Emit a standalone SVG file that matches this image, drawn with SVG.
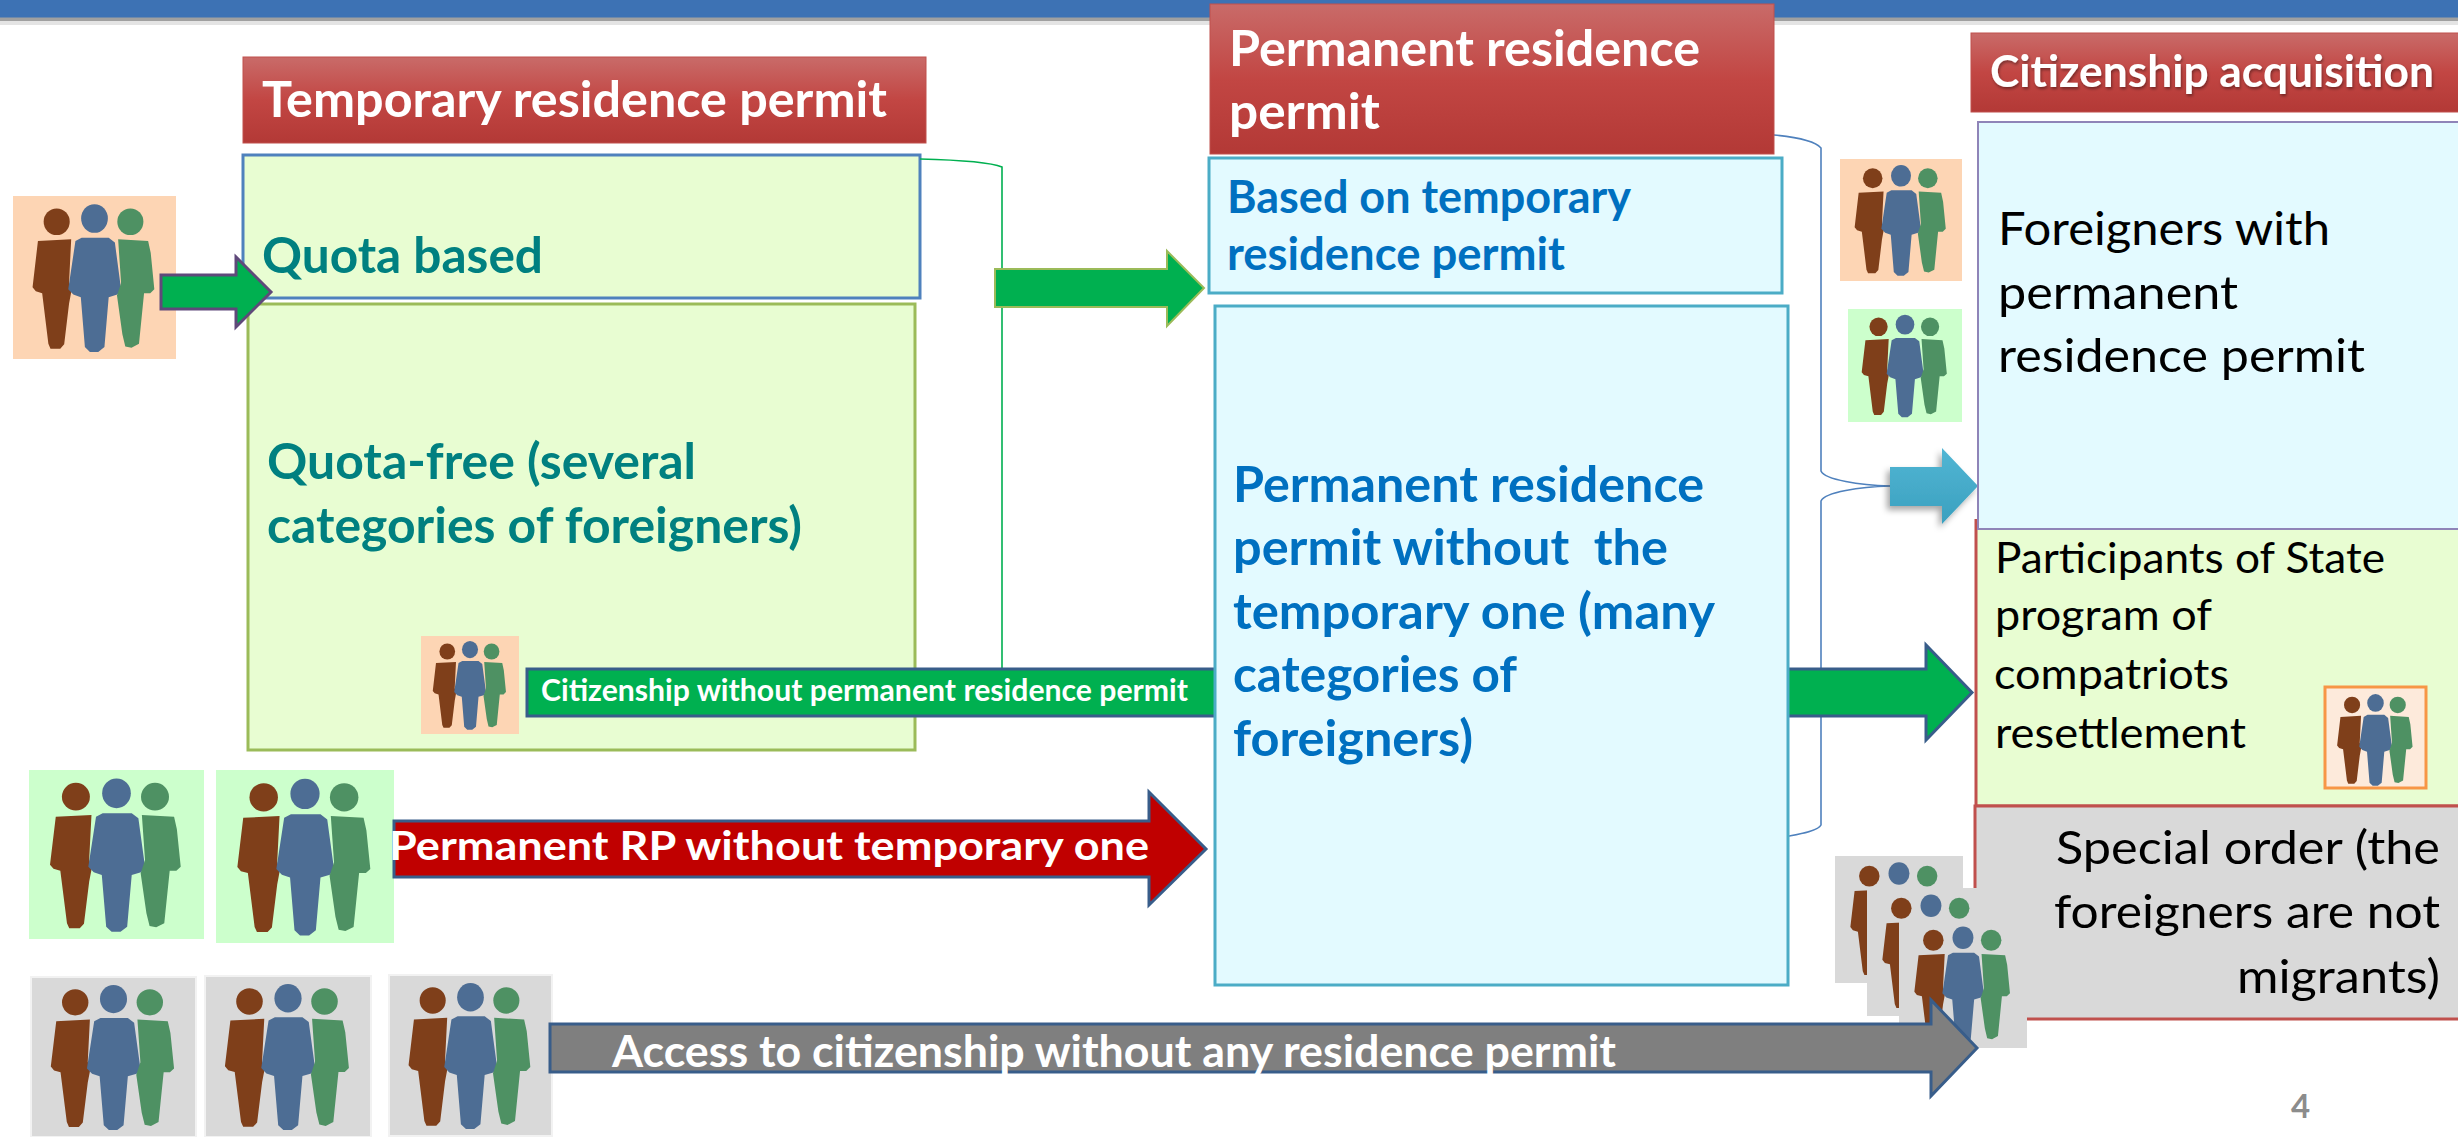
<svg xmlns="http://www.w3.org/2000/svg" width="2458" height="1137" viewBox="0 0 2458 1137">
<style>
text{font-family:"Lato","Liberation Sans",sans-serif}
.b{font-weight:700}
.w{fill:#fff;font-weight:700}
.t{fill:#008080;font-weight:700;font-size:50px}
.c{fill:#0070c0;font-weight:700}
.k{fill:#000;font-weight:400}
.hd{fill:url(#red);stroke:#c0504d;stroke-width:1}
.lg{fill:#e8fdd2}
.lb{fill:#e3faff}
.thin{fill:none;stroke-width:1.6}
.gr{fill:#d9d9d9}
.ar{stroke:#385d8a;stroke-width:3}
</style>
<defs>
<linearGradient id="red" x1="0" y1="0" x2="0" y2="1"><stop offset="0" stop-color="#c96b69"/><stop offset=".5" stop-color="#c24643"/><stop offset="1" stop-color="#b33936"/></linearGradient>
<linearGradient id="teal" x1="0" y1="0" x2="0" y2="1"><stop offset="0" stop-color="#52b6d4"/><stop offset="1" stop-color="#3aa0bf"/></linearGradient>
<filter id="sh" x="-20%" y="-20%" width="140%" height="140%"><feDropShadow dx="-3" dy="4" stdDeviation="3" flood-color="#000" flood-opacity=".35"/></filter>
<filter id="ts" x="-5%" y="-20%" width="110%" height="140%"><feDropShadow dx="1" dy="2" stdDeviation="1.5" flood-color="#000" flood-opacity=".4"/></filter>
<symbol id="people" viewBox="0 0 100 100" preserveAspectRatio="none">
<ellipse cx="26.8" cy="15.8" rx="8" ry="8.200" fill="#7f3f1a"/>
<path fill="#7f3f1a" d="M15.3 27.6 35.7 26.6 34.4 53 35.7 59 34.4 66 31.4 91 29 93.7H23L21.7 90.7 17.9 59.6 14 58.5 12 56Z"/>
<ellipse cx="50" cy="13.8" rx="8.2" ry="8.8" fill="#4d6d94"/>
<path fill="#4d6d94" d="M38.3 27.6 42.1 25.6H58.7L62.5 28.6 66.3 57.2 64 60.5 58.7 62.1 56.1 92.7 52.3 95.7H47.2L44.1 92.7 41.6 62.1 37 60.5 33.9 57.2Z"/>
<ellipse cx="72" cy="15.8" rx="8" ry="8.200" fill="#4e9163"/>
<path fill="#4e9163" d="M64.5 26.6 82.9 27.6 84.5 35 86.7 57.2 84.2 59.6 80.4 59.6 77.3 90.7 72.7 93.1 68.9 92.3 67.1 84.8 63.8 61.1 66.3 53.3Z"/>
</symbol>
</defs>
<rect width="2458" height="1137" fill="#fff"/>
<g id="top-bar">
<rect y="20" width="2458" height="5" fill="#e4e4e4"/>
<rect y="17" width="2458" height="4" fill="#a0a0a0"/>
<rect width="2458" height="17.500" fill="#3d72b4"/>
</g>

<g id="temporary-header">
<rect class="hd" x="243" y="57" width="683" height="86"/>
<text class="w" x="262" y="117" font-size="50" textLength="625" lengthAdjust="spacingAndGlyphs">Temporary residence permit</text>
</g>
<g id="quota-based">
<rect class="lg" x="243" y="155" width="677" height="143" stroke="#4f81bd" stroke-width="3"/>
<text class="t" x="262" y="273" textLength="281" lengthAdjust="spacingAndGlyphs">Quota based</text>
</g>
<g id="quota-free">
<rect class="lg" x="248" y="304" width="667" height="446" stroke="#9bbb59" stroke-width="3"/>
<text class="t" x="267" y="479" textLength="429" lengthAdjust="spacingAndGlyphs">Quota-free (several</text>
<text class="t" x="267" y="543" textLength="535" lengthAdjust="spacingAndGlyphs">categories of foreigners)</text>
</g>
<g id="people-quota"><rect x="13" y="196" width="163" height="163" fill="#fdd5b4"/><use href="#people" x="13" y="196" width="163" height="163"/></g>
<g id="people-citizenship-direct"><rect x="421" y="636" width="98" height="98" fill="#fdd5b4"/><use href="#people" x="421" y="636" width="98" height="98"/></g>
<g id="people-green-1"><rect x="29" y="770" width="175" height="169" fill="#ccffcc"/><use href="#people" x="29" y="770" width="175" height="169"/></g>
<g id="people-green-2"><rect x="216" y="770" width="178" height="173" fill="#ccffcc"/><use href="#people" x="216" y="770" width="178" height="173"/></g>
<g id="people-gray-1"><rect class="gr" x="31" y="977" width="165" height="160" stroke="#f2f2f2" stroke-width="2"/><use href="#people" x="31" y="977" width="165" height="160"/></g>
<g id="people-gray-2"><rect class="gr" x="205" y="976" width="166" height="161" stroke="#f2f2f2" stroke-width="2"/><use href="#people" x="205" y="976" width="166" height="161"/></g>
<g id="people-gray-3"><rect class="gr" x="389" y="975" width="163" height="161" stroke="#f2f2f2" stroke-width="2"/><use href="#people" x="389" y="975" width="163" height="161"/></g>

<g id="citizenship-header">
<rect class="hd" x="1971" y="33" width="490" height="79"/>
<text class="w" x="1990" y="87" font-size="43" textLength="444" lengthAdjust="spacingAndGlyphs" filter="url(#ts)">Citizenship acquisition</text>
</g>
<g id="people-orange-right"><rect x="1840" y="159" width="122" height="122" fill="#fdd5b4"/><use href="#people" x="1840" y="159" width="122" height="122"/></g>
<g id="people-green-right"><rect x="1848" y="309" width="114" height="113" fill="#ccffcc"/><use href="#people" x="1848" y="309" width="114" height="113"/></g>
<g id="participants">
<rect class="lg" x="1976" y="529" width="490" height="277"/>
<path d="M1976 519V806H2460" fill="none" stroke="#c0504d" stroke-width="3"/>
<text class="k" x="1995" y="573" font-size="42" textLength="390" lengthAdjust="spacingAndGlyphs">Participants of State</text>
<text class="k" x="1995" y="630" font-size="42" textLength="217" lengthAdjust="spacingAndGlyphs">program of</text>
<text class="k" x="1994" y="689" font-size="42" textLength="235" lengthAdjust="spacingAndGlyphs">compatriots</text>
<text class="k" x="1995" y="748" font-size="42" textLength="251" lengthAdjust="spacingAndGlyphs">resettlement</text>
</g>
<g id="people-participants"><rect x="2325" y="687" width="101" height="101" fill="#fdeadb" stroke="#f79646" stroke-width="3"/><use href="#people" x="2325" y="689" width="101" height="101"/></g>
<g id="special-order">
<rect class="gr" x="1975" y="806" width="490" height="213" stroke="#c0504d" stroke-width="3"/>
<text class="k" x="2440" y="864" font-size="47" text-anchor="end" textLength="384" lengthAdjust="spacingAndGlyphs">Special order (the</text>
<text class="k" x="2440" y="928" font-size="47" text-anchor="end" textLength="386" lengthAdjust="spacingAndGlyphs">foreigners are not</text>
<text class="k" x="2440" y="993" font-size="47" text-anchor="end" textLength="203" lengthAdjust="spacingAndGlyphs">migrants)</text>
</g>
<g id="people-stack-1"><rect class="gr" x="1835" y="856" width="128" height="127"/><use href="#people" x="1835" y="856" width="128" height="127"/></g>
<g id="people-stack-2"><rect class="gr" x="1867" y="888" width="128" height="128"/><use href="#people" x="1867" y="888" width="128" height="128"/></g>
<g id="people-stack-3"><rect class="gr" x="1899" y="920" width="128" height="128"/><use href="#people" x="1899" y="920" width="128" height="128"/></g>

<g id="connectors">
<path class="thin" stroke="#00b050" d="M920 159C960 160 990 162 1002 167V690"/>
<path class="thin" stroke="#4f81bd" d="M1774 135C1795 137 1815 141 1821 148V471C1825 480 1860 485 1890 486C1860 487 1825 492 1821 501V825C1818 831 1800 834 1789 836"/>
<path d="M995 269H1167V251L1204 288 1167 326V307H995Z" fill="#00b050" stroke="#9bbb59" stroke-width="2"/>
<path d="M161 275H236V257L271 292 236 327V309H161Z" fill="#00b050" stroke="#5f497a" stroke-width="3"/>
<path d="M1890 467H1942V448L1978 486 1942 524V506H1890Z" fill="url(#teal)" filter="url(#sh)"/>
<path class="ar" d="M527 669H1926V645L1972 692.500 1926 740V716H527Z" fill="#00b050"/>
<text class="w" x="541" y="701" font-size="30" textLength="647" lengthAdjust="spacingAndGlyphs">Citizenship without permanent residence permit</text>
<path class="ar" d="M394 821H1149V792L1206 849 1149 905V877H394Z" fill="#c00000"/>
<text class="w" x="389" y="860" font-size="41" textLength="760" lengthAdjust="spacingAndGlyphs">Permanent RP without temporary one</text>
<path class="ar" d="M550 1024H1931V1000L1977 1048 1931 1096V1072H550Z" fill="#7f7f7f"/>
<text class="w" x="612" y="1067" font-size="44" textLength="1004" lengthAdjust="spacingAndGlyphs">Access to citizenship without any residence permit</text>
</g>

<g id="permanent-header">
<rect class="hd" x="1210" y="4" width="564" height="150"/>
<text class="w" x="1229" y="66" font-size="50" textLength="471" lengthAdjust="spacingAndGlyphs">Permanent residence</text>
<text class="w" x="1229" y="129" font-size="50" textLength="151" lengthAdjust="spacingAndGlyphs">permit</text>
</g>
<g id="based-on-temporary">
<rect class="lb" x="1209" y="158" width="573" height="135" stroke="#4bacc6" stroke-width="3"/>
<text class="c" x="1227" y="213" font-size="45" textLength="404" lengthAdjust="spacingAndGlyphs">Based on temporary</text>
<text class="c" x="1227" y="270" font-size="45" textLength="338" lengthAdjust="spacingAndGlyphs">residence permit</text>
</g>
<g id="without-temporary">
<rect class="lb" x="1215" y="306" width="573" height="679" stroke="#4bacc6" stroke-width="3"/>
<text class="c" x="1233" y="502" font-size="50" textLength="471" lengthAdjust="spacingAndGlyphs">Permanent residence</text>
<text class="c" x="1233" y="565" font-size="50" textLength="435" lengthAdjust="spacingAndGlyphs" xml:space="preserve">permit without  the</text>
<text class="c" x="1233" y="629" font-size="50" textLength="482" lengthAdjust="spacingAndGlyphs">temporary one (many</text>
<text class="c" x="1233" y="692" font-size="50" textLength="284" lengthAdjust="spacingAndGlyphs">categories of</text>
<text class="c" x="1233" y="756" font-size="50" textLength="240" lengthAdjust="spacingAndGlyphs">foreigners)</text>
</g>
<g id="foreigners-with-permit">
<rect class="lb" x="1978" y="122" width="490" height="407" stroke="#8f84b8" stroke-width="2"/>
<text class="k" x="1998" y="245" font-size="47" textLength="332" lengthAdjust="spacingAndGlyphs">Foreigners with</text>
<text class="k" x="1998" y="309" font-size="47" textLength="240" lengthAdjust="spacingAndGlyphs">permanent</text>
<text class="k" x="1998" y="372" font-size="47" textLength="367" lengthAdjust="spacingAndGlyphs">residence permit</text>
</g>
<g id="page-number"><text x="2291" y="1118" font-size="33" font-weight="700" fill="#8c8c8c">4</text></g>
</svg>
